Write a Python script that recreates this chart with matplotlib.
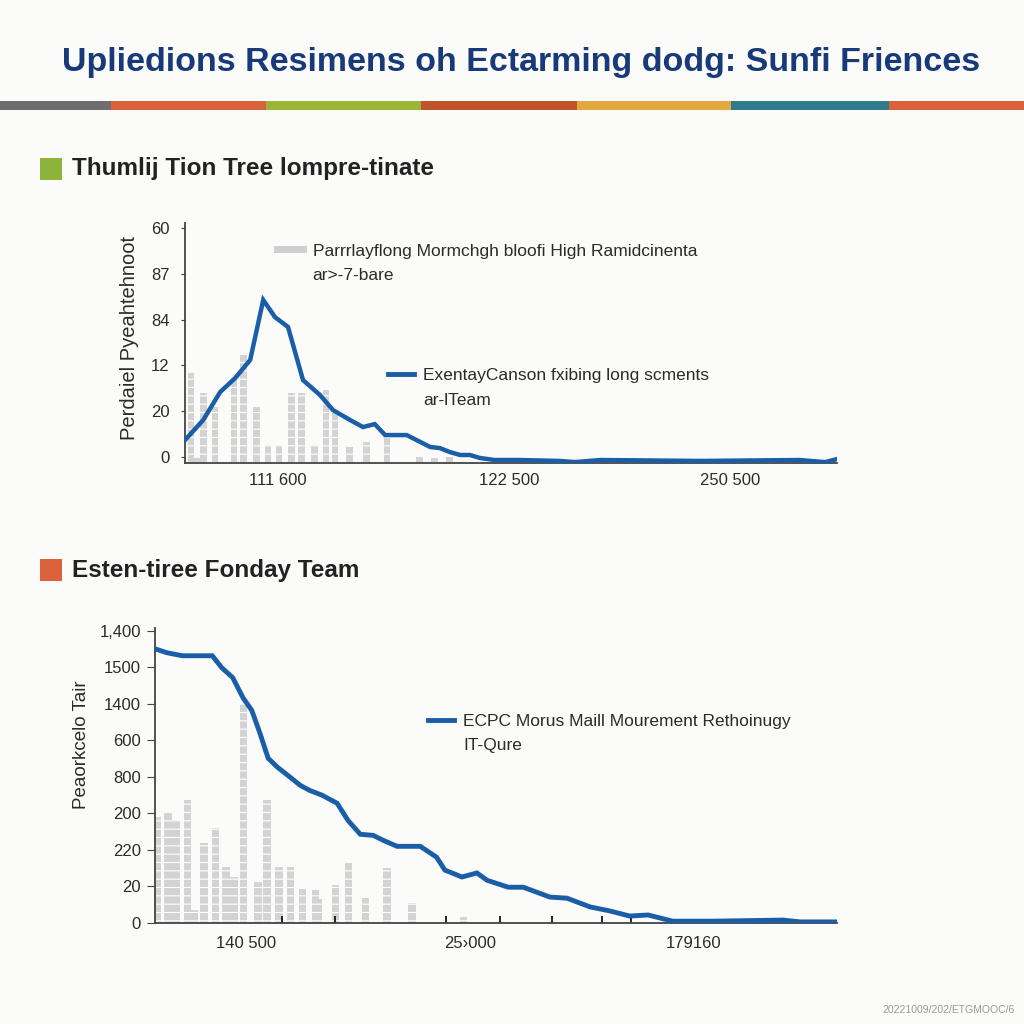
import matplotlib
matplotlib.use("Agg")
import matplotlib.pyplot as plt
from matplotlib.lines import Line2D
from matplotlib.patches import Rectangle

# ---------------- data ----------------
title = "Upliedions Resimens oh Ectarming dodg: Sunfi Friences"
section1_title = "Thumlij Tion Tree lompre-tinate"
section2_title = "Esten-tiree Fonday Team"
footer = "20221009/202/ETGMOOC/6"

# chart 1
c1_line_x = [0, 2.8, 5.4, 7.7, 10.0, 12.0, 13.8, 15.8, 18.1, 20.7, 22.7, 25.3, 27.3, 29.1,
             30.7, 34.0, 37.6, 39.1, 40.6, 42.2, 43.7, 45.2, 47.5, 51.4, 57.5, 59.8, 63.7,
             79.0, 94.3, 95.9, 98.2, 100]
c1_line_y = [7.4, 16.2, 28.4, 34.5, 42.4, 68.6, 61.1, 56.8, 33.6, 27.1, 20.5, 16.2, 13.1, 14.4,
             9.6, 9.6, 4.4, 3.9, 2.2, 0.9, 0.9, -0.4, -1.3, -1.3, -1.7, -2.2, -1.3,
             -1.7, -1.3, -1.7, -2.2, -0.9]
c1_bar_x = [0.9, 1.8, 2.8, 4.6, 7.5, 9.0, 11.0, 12.7, 14.4, 16.3, 17.9, 19.9, 21.6, 23.0,
            25.2, 27.8, 31.0, 36.0, 38.3, 40.6]
c1_bar_h = [39.3, 2.2, 30.6, 24.5, 37.1, 47.2, 24.5, 7.9, 7.9, 30.6, 30.6, 7.9, 31.9, 21.8,
            7.0, 9.2, 10.9, 2.6, 2.2, 2.6]
c1_yticks = [0, 20, 40, 60, 80, 100]
c1_yticklabels = ["0", "20", "12", "84", "87", "60"]
c1_xticks = [14.3, 49.7, 83.6]
c1_xticklabels = ["111 600", "122 500", "250 500"]
c1_ylabel = "Perdaiel Pyeahtehnoot"
c1_leg_bar = ["Parrrlayflong Mormchgh bloofi High Ramidcinenta", "ar>-7-bare"]
c1_leg_line = ["ExentayCanson fxibing long scments", "ar-lTeam"]

# chart 2
c2_line_x = [0, 1.8, 4.0, 8.4, 9.8, 11.4, 12.9, 14.2, 15.4, 16.6, 18.0, 19.5, 21.3, 22.7,
             24.5, 26.7, 28.3, 30.1, 32.0, 33.4, 35.5, 38.9, 41.3, 42.5, 45.0, 47.2, 48.7,
             51.8, 54.0, 57.9, 60.4, 63.8, 66.7, 69.6, 72.3, 75.9, 81.8, 92.1, 94.6, 100]
c2_line_y = [751, 740, 732, 732, 699, 672, 617, 582, 519, 451, 426, 404, 377, 363,
             350, 328, 281, 243, 240, 227, 210, 210, 180, 145, 126, 137, 117,
             98, 98, 71, 68, 44, 33, 19, 22, 5, 5, 8, 3, 3]
c2_bar_x = [0.4, 1.9, 3.1, 4.8, 5.7, 7.2, 8.9, 10.4, 11.6, 13.0, 15.1, 16.4, 18.2, 19.9,
            21.6, 23.5, 24.0, 26.5, 28.4, 30.9, 34.0, 37.7, 45.2]
c2_bar_h = [290, 303, 281, 336, 36, 219, 260, 153, 126, 601, 112, 336, 153, 153,
            93, 90, 66, 104, 164, 68, 150, 55, 16]
c2_yticks = [0, 100, 200, 300, 400, 500, 600, 700, 800]
c2_yticklabels = ["0", "20", "220", "200", "800", "600", "1400", "1500", "1,400"]
c2_xticks = [13.3, 46.2, 78.9]
c2_xticklabels = ["140 500", "25\u203a000", "179160"]
c2_xminor = [18.6, 26.4, 42.7, 50.6, 58.2, 65.5, 69.8]
c2_ylabel = "Peaorkcelo Tair"
c2_leg_line = ["ECPC Morus Maill Mourement Rethoinugy", "IT-Qure"]

stripe_colors = ["#6e6e6e", "#d9623b", "#9bb536", "#c0532a", "#e3a940", "#2f7d8c", "#d9623b"]

# ---------------- style ----------------
plt.rcParams['font.family'] = ['Liberation Sans', 'DejaVu Sans']
plt.rcParams['hatch.linewidth'] = 0.8
BG = "#fbfbf9"
BLUE = "#1a5ea8"
BARC = "#d3d3d3"
SPINE = "#444444"
TXT = "#2b2b2b"

fig = plt.figure(figsize=(10.24, 10.24), dpi=100, facecolor=BG)

def px(x, y):
    return x / 1024.0, 1 - y / 1024.0

# title
fig.text(*px(521, 62), title, ha="center", va="center", fontsize=24.5, fontweight="bold",
         color="#183a78")

# colour stripe
edges = [0, 111, 266, 421, 577, 731, 889, 1024]
for i, c in enumerate(stripe_colors):
    x0, y0 = px(edges[i], 110)
    fig.add_artist(Rectangle((x0, y0), (edges[i + 1] - edges[i]) / 1024, 9 / 1024,
                             transform=fig.transFigure, color=c, lw=0))

# section headers
for (sq_c, y, txt) in [("#8db33a", 169, section1_title), ("#d9623b", 570, section2_title)]:
    x0, y0 = px(40, y + 11)
    fig.add_artist(Rectangle((x0, y0), 22 / 1024, 22 / 1024, transform=fig.transFigure,
                             color=sq_c, lw=0))
    fig.text(*px(72, y), txt, ha="left", va="center", fontsize=17.5, fontweight="bold",
             color="#222222")

fig.text(*px(1015, 1010), footer, ha="right", va="center", fontsize=7.5, color="#9a9a9a")

def style_axes(ax):
    ax.set_facecolor(BG)
    for s in ["top", "right"]:
        ax.spines[s].set_visible(False)
    for s in ["left", "bottom"]:
        ax.spines[s].set_color(SPINE)
        ax.spines[s].set_linewidth(1.3)
    ax.tick_params(axis="both", colors=SPINE, labelcolor=TXT, labelsize=12)

leg_kw = dict(loc="upper left", frameon=False, fontsize=12.5, handlelength=1.5,
              handletextpad=0.55, labelspacing=0.55, borderpad=0, borderaxespad=0,
              labelcolor=TXT)

# ---------------- chart 1 ----------------
ax1 = fig.add_axes([185 / 1024, 1 - 463 / 1024, 652 / 1024, 240 / 1024])
style_axes(ax1)
c1_ylo, c1_yhi = -2.6, 102.2
ax1.bar(c1_bar_x, c1_bar_h, width=1.0, bottom=c1_ylo, color=BARC, edgecolor="white",
        linewidth=0, hatch="--", zorder=1)
ax1.plot(c1_line_x, c1_line_y, color=BLUE, lw=3.2, solid_joinstyle="miter", zorder=3)
ax1.set_xlim(0, 100)
ax1.set_ylim(c1_ylo, c1_yhi)
ax1.set_yticks(c1_yticks)
ax1.set_yticklabels(c1_yticklabels)
ax1.set_xticks(c1_xticks)
ax1.set_xticklabels(c1_xticklabels)
ax1.tick_params(axis="x", length=0, pad=7)
ax1.tick_params(axis="y", length=3, pad=8)
ax1.set_ylabel(c1_ylabel, fontsize=14.5, color=TXT)
ax1.yaxis.set_label_coords(-0.070, 0.52)

h_bar = [Line2D([], [], color="#cfcfcf", lw=5), Line2D([], [], alpha=0)]
leg1 = ax1.legend(h_bar, c1_leg_bar, bbox_to_anchor=(0.141, 0.915), **leg_kw)
ax1.add_artist(leg1)
h_line = [Line2D([], [], color=BLUE, lw=3.5), Line2D([], [], alpha=0)]
ax1.legend(h_line, c1_leg_line, bbox_to_anchor=(0.311, 0.395), **leg_kw)

# ---------------- chart 2 ----------------
ax2 = fig.add_axes([155 / 1024, 1 - 923 / 1024, 682 / 1024, 295 / 1024])
style_axes(ax2)
ax2.bar(c2_bar_x, c2_bar_h, width=1.1, color=BARC, edgecolor="white", linewidth=0,
        hatch="--", zorder=1)
ax2.plot(c2_line_x, c2_line_y, color=BLUE, lw=3.5, solid_joinstyle="miter", zorder=3)
ax2.set_xlim(0, 100)
ax2.set_ylim(0, 808)
ax2.set_yticks(c2_yticks)
ax2.set_yticklabels(c2_yticklabels)
ax2.set_xticks(c2_xticks)
ax2.set_xticklabels(c2_xticklabels)
ax2.set_xticks(c2_xminor, minor=True)
ax2.tick_params(axis="x", which="major", length=0, pad=9)
ax2.tick_params(axis="x", which="minor", length=5, direction="in", width=1.2)
ax2.tick_params(axis="y", length=6, pad=4)
ax2.set_ylabel(c2_ylabel, fontsize=13.5, color=TXT)
ax2.yaxis.set_label_coords(-0.095, 0.603)
ax2.legend([Line2D([], [], color=BLUE, lw=3.5), Line2D([], [], alpha=0)], c2_leg_line,
           bbox_to_anchor=(0.400, 0.71), **leg_kw)

fig.savefig("out.png", dpi=100, facecolor=BG)
